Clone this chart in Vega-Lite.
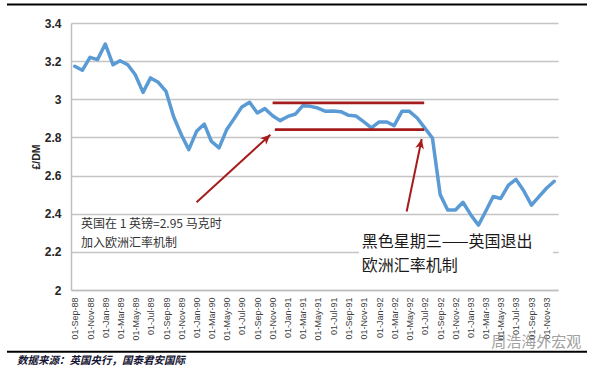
{
  "$schema": "https://vega.github.io/schema/vega-lite/v6.json",
  "width": 487,
  "height": 267,
  "autosize": {"type": "none"},
  "padding": {"left": 71, "top": 23, "right": 44, "bottom": 79},
  "background": "white",
  "config": {
    "view": {"stroke": null},
    "axis": {"labelFont": "Liberation Sans", "titleFont": "Liberation Sans"}
  },
  "resolve": {"axis": {"x": "independent", "y": "independent"}},
  "datasets": {
    "fx": [
      {"date": "1988-09-01", "rate": 3.173},
      {"date": "1988-10-01", "rate": 3.152},
      {"date": "1988-11-01", "rate": 3.22},
      {"date": "1988-12-01", "rate": 3.208},
      {"date": "1989-01-01", "rate": 3.29},
      {"date": "1989-02-01", "rate": 3.181},
      {"date": "1989-03-01", "rate": 3.202},
      {"date": "1989-04-01", "rate": 3.181},
      {"date": "1989-05-01", "rate": 3.129},
      {"date": "1989-06-01", "rate": 3.036},
      {"date": "1989-07-01", "rate": 3.112},
      {"date": "1989-08-01", "rate": 3.089},
      {"date": "1989-09-01", "rate": 3.041},
      {"date": "1989-10-01", "rate": 2.91},
      {"date": "1989-11-01", "rate": 2.814},
      {"date": "1989-12-01", "rate": 2.736},
      {"date": "1990-01-01", "rate": 2.832},
      {"date": "1990-02-01", "rate": 2.87},
      {"date": "1990-03-01", "rate": 2.78},
      {"date": "1990-04-01", "rate": 2.745},
      {"date": "1990-05-01", "rate": 2.84},
      {"date": "1990-06-01", "rate": 2.9},
      {"date": "1990-07-01", "rate": 2.96},
      {"date": "1990-08-01", "rate": 2.984},
      {"date": "1990-09-01", "rate": 2.928},
      {"date": "1990-10-01", "rate": 2.951},
      {"date": "1990-11-01", "rate": 2.914},
      {"date": "1990-12-01", "rate": 2.888},
      {"date": "1991-01-01", "rate": 2.91},
      {"date": "1991-02-01", "rate": 2.923},
      {"date": "1991-03-01", "rate": 2.966},
      {"date": "1991-04-01", "rate": 2.963},
      {"date": "1991-05-01", "rate": 2.954},
      {"date": "1991-06-01", "rate": 2.937},
      {"date": "1991-07-01", "rate": 2.939},
      {"date": "1991-08-01", "rate": 2.935},
      {"date": "1991-09-01", "rate": 2.916},
      {"date": "1991-10-01", "rate": 2.912},
      {"date": "1991-11-01", "rate": 2.881},
      {"date": "1991-12-01", "rate": 2.85},
      {"date": "1992-01-01", "rate": 2.881},
      {"date": "1992-02-01", "rate": 2.881},
      {"date": "1992-03-01", "rate": 2.862},
      {"date": "1992-04-01", "rate": 2.937},
      {"date": "1992-05-01", "rate": 2.937},
      {"date": "1992-06-01", "rate": 2.902},
      {"date": "1992-07-01", "rate": 2.85},
      {"date": "1992-08-01", "rate": 2.797},
      {"date": "1992-09-01", "rate": 2.5},
      {"date": "1992-10-01", "rate": 2.42},
      {"date": "1992-11-01", "rate": 2.42},
      {"date": "1992-12-01", "rate": 2.46},
      {"date": "1993-01-01", "rate": 2.395},
      {"date": "1993-02-01", "rate": 2.34},
      {"date": "1993-03-01", "rate": 2.41},
      {"date": "1993-04-01", "rate": 2.49},
      {"date": "1993-05-01", "rate": 2.48},
      {"date": "1993-06-01", "rate": 2.55},
      {"date": "1993-07-01", "rate": 2.58},
      {"date": "1993-08-01", "rate": 2.52},
      {"date": "1993-09-01", "rate": 2.445},
      {"date": "1993-10-01", "rate": 2.49},
      {"date": "1993-11-01", "rate": 2.535},
      {"date": "1993-12-01", "rate": 2.57}
    ],
    "levels": [
      {"start": "1990-11-01", "end": "1992-06-29", "level": 2.981},
      {"start": "1990-11-10", "end": "1992-06-29", "level": 2.841}
    ],
    "arrows": [
      {"from": "1990-01-01", "to": "1990-10-23", "y0": 2.46, "y1": 2.814},
      {"from": "1992-04-20", "to": "1992-06-19", "y0": 2.412, "y1": 2.792}
    ],
    "frame": [
      {"from": "1987-12-05", "to": "1994-04-11", "top": 3.502, "bottom": 3.492},
      {"from": "1987-12-05", "to": "1994-04-11", "top": 1.681, "bottom": 1.671}
    ]
  },
  "layer": [
    {
      "data": {"values": [{}]},
      "mark": {"type": "rect", "fill": "white"},
      "encoding": {
        "x": {"datum": {"year": 1991, "month": 10, "date": 12}, "type": "temporal", "axis": null},
        "x2": {"datum": {"year": 1993, "month": 11, "date": 26}},
        "y": {"datum": 2.05, "type": "quantitative", "axis": null},
        "y2": {"datum": 2.33}
      }
    },
    {
      "data": {"name": "fx", "format": {"parse": {"date": "date"}}},
      "mark": {"type": "line", "color": "#5B9BD5", "strokeWidth": 3.5, "strokeJoin": "round", "strokeCap": "round"},
      "encoding": {
        "x": {
          "field": "date", "type": "temporal",
          "scale": {"domain": [{"year": 1988, "month": 8, "date": 17}, {"year": 1993, "month": 12, "date": 16}]},
          "axis": {
            "title": null,
            "tickCount": {"interval": "month", "step": 2},
            "format": "01-%b-%y",
            "labelAngle": -90,
            "labelFontSize": 9,
            "labelColor": "#404040",
            "labelPadding": 7,
            "ticks": false,
            "grid": false,
            "domainColor": "#bfbfbf",
            "domainWidth": 1.5,
            "labelOverlap": false,
            "labelFlush": false
          }
        },
        "y": {
          "field": "rate", "type": "quantitative",
          "scale": {"domain": [2, 3.4], "nice": false, "zero": false},
          "axis": {
            "title": "£/DM",
            "titleFontSize": 10.5,
            "titleFontWeight": "bold",
            "titleColor": "#262626",
            "titlePadding": 3,
            "values": [2, 2.2, 2.4, 2.6, 2.8, 3, 3.2, 3.4],
            "format": "~g",
            "labelFontSize": 12,
            "labelFontWeight": "bold",
            "labelColor": "#262626",
            "labelPadding": 10,
            "labelOverlap": false,
            "ticks": false,
            "grid": true,
            "gridColor": "#c4c4c4",
            "gridWidth": 1.5,
            "domainColor": "#bfbfbf",
            "domainWidth": 1.5
          }
        }
      }
    },
    {
      "data": {"name": "levels", "format": {"parse": {"start": "date", "end": "date"}}},
      "mark": {"type": "rule", "color": "#A51C1C", "strokeWidth": 2.6},
      "encoding": {
        "x": {"field": "start", "type": "temporal", "axis": null},
        "x2": {"field": "end"},
        "y": {"field": "level", "type": "quantitative", "axis": null}
      }
    },
    {
      "data": {"name": "arrows", "format": {"parse": {"from": "date", "to": "date"}}},
      "mark": {"type": "rule", "color": "#A51C1C", "strokeWidth": 2},
      "encoding": {
        "x": {"field": "from", "type": "temporal", "axis": null},
        "x2": {"field": "to"},
        "y": {"field": "y0", "type": "quantitative", "axis": null},
        "y2": {"field": "y1"}
      }
    },
    {
      "data": {"values": [{"tip": "1990-10-23", "value": 2.814}], "format": {"parse": {"tip": "date"}}},
      "mark": {"type": "point", "shape": "M0,0 L0.8,1.8 L0,1.3 L-0.8,1.8 Z", "filled": true, "color": "#A51C1C", "opacity": 1, "size": 121, "angle": 47},
      "encoding": {
        "x": {"field": "tip", "type": "temporal", "axis": null},
        "y": {"field": "value", "type": "quantitative", "axis": null}
      }
    },
    {
      "data": {"values": [{"tip": "1992-06-19", "value": 2.792}], "format": {"parse": {"tip": "date"}}},
      "mark": {"type": "point", "shape": "M0,0 L0.8,1.8 L0,1.3 L-0.8,1.8 Z", "filled": true, "color": "#A51C1C", "opacity": 1, "size": 121, "angle": 12},
      "encoding": {
        "x": {"field": "tip", "type": "temporal", "axis": null},
        "y": {"field": "value", "type": "quantitative", "axis": null}
      }
    },
    {
      "data": {"values": [{"label": "英国在 1 英镑=2.95 马克时\n加入欧洲汇率机制"}]},
      "mark": {"type": "text", "align": "left", "baseline": "middle", "lineBreak": "\n", "lineHeight": 19, "font": "Noto Sans CJK SC", "fontSize": 12, "color": "#333333"},
      "encoding": {
        "text": {"field": "label"},
        "x": {"datum": {"year": 1988, "month": 9, "date": 26}, "type": "temporal", "axis": null},
        "y": {"datum": 2.346, "type": "quantitative", "axis": null}
      }
    },
    {
      "data": {"values": [{"label": "黑色星期三——英国退出\n欧洲汇率机制"}]},
      "mark": {"type": "text", "align": "left", "baseline": "middle", "lineBreak": "\n", "lineHeight": 24, "font": "Noto Sans CJK SC", "fontSize": 16, "color": "#1a1a1a"},
      "encoding": {
        "text": {"field": "label"},
        "x": {"datum": {"year": 1991, "month": 10, "date": 23}, "type": "temporal", "axis": null},
        "y": {"datum": 2.25, "type": "quantitative", "axis": null}
      }
    },
    {
      "data": {"values": [{"label": "数据来源：英国央行，国泰君安国际"}]},
      "mark": {"type": "text", "align": "left", "baseline": "middle", "font": "Noto Sans CJK SC", "fontSize": 10.5, "fontStyle": "italic", "fontWeight": "bold", "color": "#141433"},
      "encoding": {
        "text": {"field": "label"},
        "x": {"datum": {"year": 1988, "month": 1, "date": 14}, "type": "temporal", "axis": null},
        "y": {"datum": 1.627, "type": "quantitative", "axis": null}
      }
    },
    {
      "data": {"values": [{"label": "周浩海外宏观"}]},
      "mark": {"type": "text", "align": "left", "baseline": "middle", "font": "Noto Sans CJK SC", "fontSize": 15, "color": "#a0a0a0"},
      "encoding": {
        "text": {"field": "label"},
        "x": {"datum": {"year": 1993, "month": 3, "date": 24}, "type": "temporal", "axis": null},
        "y": {"datum": 1.729, "type": "quantitative", "axis": null}
      }
    },
    {
      "data": {"name": "frame", "format": {"parse": {"from": "date", "to": "date"}}},
      "mark": {"type": "rect", "fill": "#000000"},
      "encoding": {
        "x": {"field": "from", "type": "temporal", "axis": null},
        "x2": {"field": "to"},
        "y": {"field": "top", "type": "quantitative", "axis": null},
        "y2": {"field": "bottom"}
      }
    }
  ]
}
